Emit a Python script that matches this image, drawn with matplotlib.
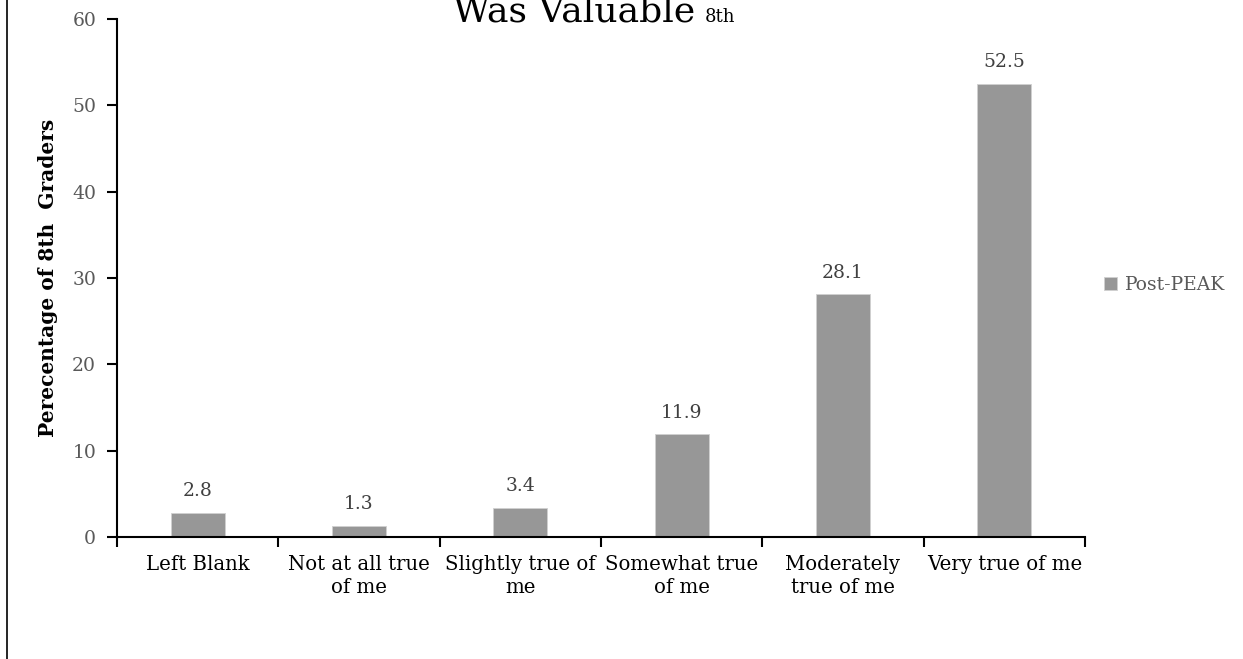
import matplotlib
matplotlib.use("Agg")
import numpy as np
from matplotlib import pyplot as plt
from matplotlib.lines import Line2D

categories = [
    "Left Blank",
    "Not at all true\nof me",
    "Slightly true of\nme",
    "Somewhat true\nof me",
    "Moderately\ntrue of me",
    "Very true of me",
]
post_peak = [2.8, 1.3, 3.4, 11.9, 28.1, 52.5]
y_ticks = [0, 10, 20, 30, 40, 50, 60]

plt.rcParams["font.family"] = ["DejaVu Serif"]

W, H = 1243, 659
fig = plt.figure(figsize=(W / 100, H / 100), dpi=100)
ax = fig.add_axes([117 / W, 1 - 537 / H, (1085 - 117) / W, (537 - 19) / H])

x = np.arange(len(categories))
ax.bar(x, post_peak, width=0.335, color="#979797", edgecolor="#d0d0d0",
       linewidth=0.6, label="Post-PEAK", zorder=2)

for xi, v in zip(x, post_peak):
    ax.annotate(f"{v:.1f}", (xi, v), xytext=(0, 9), textcoords="offset points",
                ha="center", va="bottom", fontsize=13.5, color="#404040")

ax.set_xlim(-0.5, len(categories) - 0.5)
ax.set_ylim(0, 60)

# boundary ticks as major, labels on minor
ax.set_xticks(np.arange(len(categories) + 1) - 0.5)
ax.set_xticklabels([])
ax.set_xticks(x, minor=True)
ax.set_xticklabels(categories, minor=True, fontsize=14.2, color="black",
                   linespacing=1.25)
ax.tick_params(axis="x", which="major", length=7, width=1.5, direction="out")
ax.tick_params(axis="x", which="minor", length=0, pad=13)

ax.set_yticks(y_ticks)
ax.set_yticklabels([str(t) for t in y_ticks], fontsize=13.5, color="#595959")
ax.tick_params(axis="y", length=7, width=1.5, direction="out", pad=8)

for s in ["top", "right"]:
    ax.spines[s].set_visible(False)
for s in ["left", "bottom"]:
    ax.spines[s].set_linewidth(1.5)
    ax.spines[s].set_color("black")

ax.set_ylabel("Perecentage of 8th  Graders", fontsize=14.5, fontweight="bold",
              labelpad=10)

leg = ax.legend(loc="center left", bbox_to_anchor=(1087 / W, 1 - 285 / H),
                bbox_transform=fig.transFigure, frameon=False, fontsize=13.5,
                handlelength=0.7, handleheight=0.7, handletextpad=0.4)
for t in leg.get_texts():
    t.set_color("#595959")

# title, mostly cut off at the top (as in the source image)
title = fig.text(453 / W, 1 - 22 / H, "Was Valuable", fontsize=26, ha="left",
                 va="baseline", color="black")
fig.canvas.draw()
bb = title.get_window_extent()
fig.text((bb.x1 + 9) / W, 1 - 22 / H, "8th", fontsize=13, ha="left",
         va="baseline", color="black")

# chart area border (left edge visible)
fig.add_artist(Line2D([7 / W, 7 / W], [0, 1], transform=fig.transFigure,
                      color="black", linewidth=1.2))

fig.savefig("out.png", dpi=100)
